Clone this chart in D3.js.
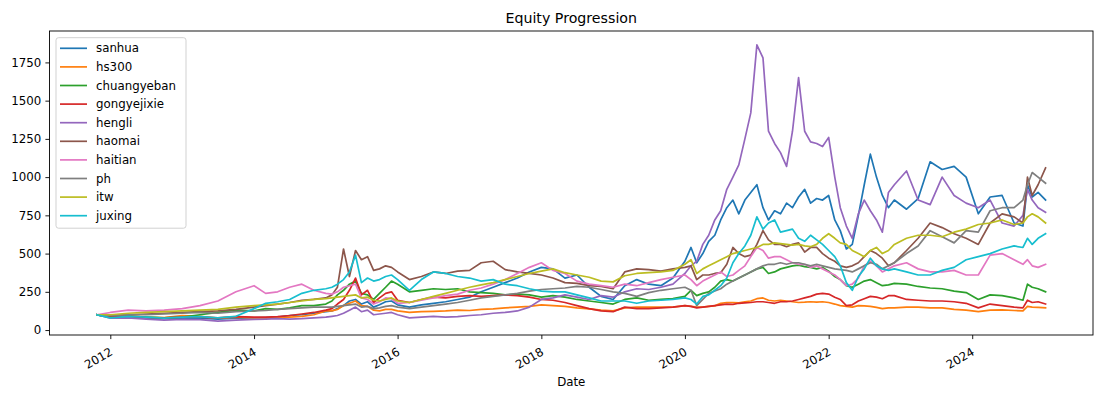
<!DOCTYPE html>
<html><head><meta charset="utf-8">
<script src="https://cdn.jsdelivr.net/npm/d3@7"></script>
<style>
body{margin:0;background:#fff;}
svg{display:block;font-family:"DejaVu Sans",sans-serif;}
</style>
</head><body>
<svg id="chart" width="1106" height="398"></svg>
<script>
const dates = ["2011-10-25","2012-01-01","2012-04-01","2012-07-01","2012-10-01",
"2013-01-01","2013-04-01","2013-07-01","2013-10-01",
"2014-01-01","2014-03-01","2014-05-01","2014-07-01","2014-09-01","2014-11-01",
"2015-01-01","2015-02-01","2015-03-01","2015-04-01","2015-05-01","2015-06-01","2015-07-01","2015-08-01","2015-09-01","2015-10-01","2015-11-01","2015-12-01",
"2016-01-01","2016-03-01","2016-05-01","2016-07-01","2016-09-01","2016-11-01",
"2017-01-01","2017-03-01","2017-05-01","2017-07-01","2017-09-01","2017-11-01",
"2018-01-01","2018-03-01","2018-05-01","2018-07-01","2018-09-01","2018-11-01",
"2019-01-01","2019-03-01","2019-05-01","2019-07-01","2019-09-01","2019-11-01",
"2020-01-01","2020-02-01","2020-03-01","2020-04-01","2020-05-01","2020-06-01","2020-07-01","2020-08-01","2020-09-01","2020-10-01","2020-11-01","2020-12-01",
"2021-01-01","2021-02-01","2021-03-01","2021-04-01","2021-05-01","2021-06-01","2021-07-01","2021-08-01","2021-09-01","2021-10-01","2021-11-01","2021-12-01",
"2022-01-01","2022-02-01","2022-03-01","2022-04-01","2022-05-01","2022-06-01","2022-07-01","2022-08-01","2022-09-01","2022-10-01","2022-11-01","2022-12-01",
"2023-02-01","2023-04-01","2023-06-01","2023-08-01","2023-10-01","2023-12-01",
"2024-02-01","2024-04-01","2024-06-01","2024-08-01",
"2024-09-15","2024-10-08","2024-11-01","2024-12-01","2025-01-08"];

const sanhua = [100,85,90,80,75, 80,78,72,78, 80,82,85,95,100,110,
 120,125,140,160,190,200,170,185,150,165,185,190, 165,150,165,175,185,200,
 215,250,280,310,340,380, 410,400,340,360,280,220, 200,290,330,300,290,340,
 450,540,440,500,580,620,720,800,850,760,850,900,
 950,800,720,780,760,830,800,870,920,830,860,850,
 880,720,650,530,560,750,950,1150,1000,880,800,850,
 790,860,1100,1050,1070,1000, 760,870,880,700, 680,950,870,900,850];
const hs300 = [100,88,95,85,82, 95,90,78,85, 80,78,80,85,90,100,
 125,125,135,160,175,190,160,155,130,125,135,135, 125,115,120,122,125,130,
 128,135,138,145,150,155, 165,160,155,145,138,130, 125,145,150,150,150,150,
 160,155,150,150,155,158,175,180,180,178,185,190,
 205,210,195,190,195,190,185,180,182,185,182,185,
 180,170,160,155,150,160,158,155,148,140,145,145,
 150,150,145,145,135,130, 120,130,132,128, 125,155,150,148,145];
const chuangyeban = [100,85,90,85,80, 85,100,115,130, 125,140,135,145,160,160,
 170,190,230,260,300,320,240,230,200,240,280,320, 300,250,260,270,265,270,
 250,245,240,230,235,230, 215,225,215,200,190,180, 170,200,210,195,200,205,
 220,260,225,240,250,280,320,330,320,340,360,380,
 400,410,370,380,400,410,420,425,415,410,400,410,
 385,350,330,290,280,300,320,330,310,290,295,305,
 300,285,275,270,255,245, 200,230,225,210, 195,300,280,270,250];
const gongyejixie = [100,85,90,82,80, 85,85,80,88, 85,85,88,95,105,115,
 130,140,170,200,260,340,230,260,180,210,240,250, 195,180,200,215,210,220,
 225,220,225,230,225,215, 200,195,180,160,140,125, 120,150,140,140,145,150,
 160,155,145,150,155,160,165,170,168,175,178,180,
 185,185,180,175,185,185,190,200,210,220,235,240,
 235,215,200,160,165,190,205,220,215,205,225,225,
 200,195,190,190,185,175, 145,170,160,150, 145,195,180,185,170];
const hengli = [100,78,80,72,65, 70,68,58,65, 70,72,75,72,75,80,
 85,90,95,110,130,150,120,130,100,105,110,115, 100,80,85,90,85,88,
 95,100,110,115,125,150, 200,210,230,215,200,225, 215,250,270,265,280,300,
 370,420,450,560,620,720,780,920,1000,1080,1250,1420,
 1865,1780,1300,1220,1160,1070,1300,1650,1300,1230,1220,1200,
 1260,1000,800,680,600,760,850,780,720,640,900,950,
 1040,850,820,1000,880,830, 800,850,700,680, 750,920,850,800,770];
const haomai = [100,95,100,105,110, 115,120,125,135, 150,160,170,180,195,200,
 210,230,280,530,350,520,460,480,390,400,420,410, 380,330,350,380,370,385,
 390,440,450,395,380,370, 360,340,310,305,290,285, 270,380,400,395,385,400,
 410,420,330,360,360,370,375,430,540,500,480,490,
 560,650,590,560,560,545,560,570,510,540,540,500,
 470,450,420,410,420,440,480,520,500,470,420,440,
 520,600,700,670,630,600, 560,700,760,740, 700,1000,880,950,1060];
const haitian = [100,115,130,125,130, 140,160,190,250, 290,240,250,280,300,260,
 240,235,250,280,290,300,210,200,170,185,210,205, 175,180,195,210,225,235,
 260,275,300,330,370,410, 440,390,370,320,300,290, 280,300,290,310,330,345,
 360,330,290,320,340,360,380,350,360,390,420,480,
 540,520,470,480,480,460,440,430,430,410,420,400,
 380,360,330,290,300,340,420,450,420,380,400,420,
 440,400,380,380,390,360, 360,490,500,460, 430,460,420,410,430];
const ph = [100,95,100,100,105, 110,115,110,120, 125,128,135,140,145,150,
 150,150,155,160,165,170,150,155,140,145,155,160, 150,140,150,160,170,180,
 195,210,220,230,240,255, 265,270,275,285,280,265, 250,240,220,245,260,270,
 280,260,160,200,240,255,270,300,320,340,360,380,
 400,420,430,430,440,430,440,440,430,420,430,420,
 410,400,395,390,380,400,420,440,430,400,420,440,
 500,550,650,610,570,650, 640,780,800,800, 850,950,1030,1000,960];
const itw = [100,100,110,115,120, 125,130,135,150, 160,165,170,180,190,200,
 205,210,215,220,225,230,210,215,195,190,200,210, 190,180,200,220,240,260,
 280,295,310,330,350,370, 385,400,375,360,345,320, 315,355,370,375,380,390,
 430,460,370,400,420,440,460,480,500,510,520,530,
 540,560,560,570,565,560,555,560,550,545,560,600,
 630,600,570,560,520,500,480,520,540,500,520,560,
 600,620,620,610,640,660, 690,700,720,690, 700,740,760,740,700];
const juxing = [100,80,90,85,78, 85,88,80,90, 140,175,185,200,240,260,
 270,280,300,330,380,490,310,340,320,330,350,360, 330,260,330,380,370,350,
 340,320,330,300,290,270, 255,250,250,230,210,190, 190,190,175,190,195,200,
 210,200,170,220,230,260,290,340,440,500,550,620,
 740,660,700,720,640,650,660,600,580,620,590,560,
 520,480,420,310,260,350,400,470,420,400,390,400,
 380,360,360,390,410,460, 480,500,530,550, 540,600,560,600,630];

const seriesNames = ["sanhua","hs300","chuangyeban","gongyejixie","hengli","haomai","haitian","ph","itw","juxing"];
const seriesValues = [sanhua,hs300,chuangyeban,gongyejixie,hengli,haomai,haitian,ph,itw,juxing];
const colors = ["#1f77b4","#ff7f0e","#2ca02c","#d62728","#9467bd","#8c564b","#e377c2","#7f7f7f","#bcbd22","#17becf"];
const yTicks = [0,250,500,750,1000,1250,1500,1750];
const xTickYears = [2012,2014,2016,2018,2020,2022,2024];
const titleText = "Equity Progression";
const xLabelText = "Date";

const W = 1106, H = 398;
const plot = {left:49.5, right:1093, top:31, bottom:335};
const parse = d3.timeParse("%Y-%m-%d");
const D = dates.map(parse);

const [t0, t1] = d3.extent(D);
const tspan = t1 - t0;
const x = d3.scaleTime()
  .domain([new Date(+t0 - 0.05*tspan), new Date(+t1 + 0.05*tspan)])
  .range([plot.left, plot.right]);
const allV = seriesValues.flat();
const vmin = d3.min(allV), vmax = d3.max(allV), vspan = vmax - vmin;
const y = d3.scaleLinear()
  .domain([vmin - 0.05*vspan, vmax + 0.05*vspan])
  .range([plot.bottom, plot.top]);

const svg = d3.select("#chart");
svg.append("rect").attr("width",W).attr("height",H).attr("fill","#fff");

const clip = svg.append("defs").append("clipPath").attr("id","clip");
clip.append("rect").attr("x",plot.left).attr("y",plot.top)
  .attr("width",plot.right-plot.left).attr("height",plot.bottom-plot.top);

const line = d3.line().x((d,i)=>x(D[i])).y(d=>y(d));
const lg = svg.append("g").attr("clip-path","url(#clip)");
seriesValues.forEach((vals,k)=>{
  lg.append("path").datum(vals).attr("d",line)
    .attr("fill","none").attr("stroke",colors[k])
    .attr("stroke-width",1.7).attr("stroke-linejoin","round").attr("stroke-linecap","square");
});

// frame
svg.append("rect").attr("x",plot.left).attr("y",plot.top)
  .attr("width",plot.right-plot.left).attr("height",plot.bottom-plot.top)
  .attr("fill","none").attr("stroke","#000").attr("stroke-width",0.9);

// x axis
const xAxis = d3.axisBottom(x)
  .tickValues(xTickYears.map(yr=>new Date(yr,0,1)))
  .tickFormat(d3.timeFormat("%Y")).tickSize(4.1).tickPadding(4);
const gx = svg.append("g").attr("transform",`translate(0,${plot.bottom})`).call(xAxis);
gx.select(".domain").remove();
gx.selectAll(".tick line").attr("stroke","#000").attr("stroke-width",0.9);
gx.selectAll(".tick text")
  .attr("font-size",11.8).attr("fill","#000").attr("font-family","DejaVu Sans, sans-serif")
  .attr("text-anchor","end").attr("y",null).attr("dy",null)
  .attr("transform","translate(2.6,19.2) rotate(-30)");

// y axis
const yAxis = d3.axisLeft(y).tickValues(yTicks).tickFormat(d3.format("d")).tickSize(4.1).tickPadding(4.1);
const gy = svg.append("g").attr("transform",`translate(${plot.left},0)`).call(yAxis);
gy.select(".domain").remove();
gy.selectAll(".tick line").attr("stroke","#000").attr("stroke-width",0.9);
gy.selectAll(".tick text").attr("font-size",11.8).attr("fill","#000")
  .attr("font-family","DejaVu Sans, sans-serif");

// title and axis label
svg.append("text").attr("x",(plot.left+plot.right)/2).attr("y",23)
  .attr("text-anchor","middle").attr("font-size",14.2).attr("fill","#000").text(titleText);
svg.append("text").attr("x",(plot.left+plot.right)/2).attr("y",385.5)
  .attr("text-anchor","middle").attr("font-size",11.8).attr("fill","#000").text(xLabelText);

// legend
const leg = svg.append("g");
leg.append("rect").attr("x",56).attr("y",37.7).attr("width",130).attr("height",190.5)
  .attr("rx",2.5).attr("fill","#fff").attr("fill-opacity",0.8)
  .attr("stroke","#cccccc").attr("stroke-width",0.9);
seriesNames.forEach((name,k)=>{
  const cy = 48.3 + k*18.6;
  leg.append("line").attr("x1",60).attr("x2",87).attr("y1",cy).attr("y2",cy)
    .attr("stroke",colors[k]).attr("stroke-width",1.7);
  leg.append("text").attr("x",96).attr("y",cy).attr("dy","0.35em")
    .attr("font-size",11.8).attr("fill","#000").text(name);
});
</script>
</body></html>
